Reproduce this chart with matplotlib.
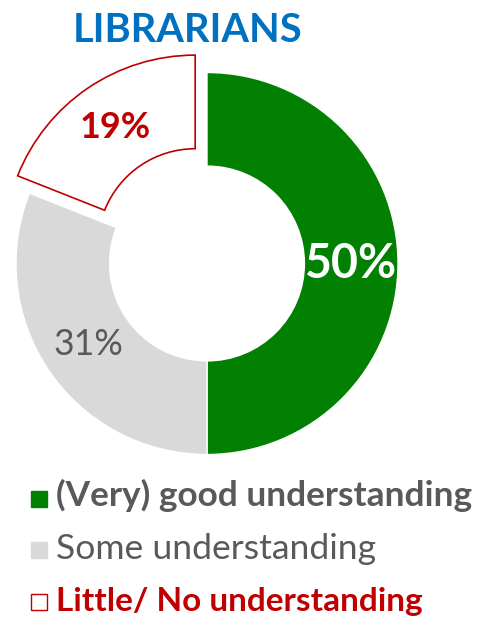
"""
Donut chart: librarians' understanding level.
"""

import matplotlib
matplotlib.use('Agg')
import matplotlib.pyplot as plt
from matplotlib.patches import Rectangle

# data
categories = ['(Very) good understanding', 'Some understanding', 'Little/ No understanding']
shares = [50, 31, 19]
title = 'LIBRARIANS'

W, H = 481, 622
fig = plt.figure(figsize=(W / 100, H / 100), dpi=100)
plt.rcParams['font.family'] = ['Lato', 'DejaVu Sans']

GREEN = '#028002'
GRAY = '#D9D9D9'
RED = '#C00000'
DARK = '#595959'
BLUE = '#0070C0'

# pie centre (px from top-left) and outer radius in px
cx, cy, R = 207, 263.5, 191.0

ax = fig.add_axes([0, 0, 1, 1])
wedges, _, pcts = ax.pie(shares, startangle=90, counterclock=False,
                         explode=[0, 0, 0.11], radius=1.0,
                         autopct='%.0f%%', pctdistance=0.75,
                         wedgeprops=dict(width=0.49, linewidth=1, edgecolor='white'),
                         colors=[GREEN, GRAY, 'white'])
wedges[2].set_edgecolor(RED)
wedges[2].set_linewidth(1.2)
ax.set_aspect('auto')
ax.set_xlim(-cx / R, (W - cx) / R)
ax.set_ylim(-(H - cy) / R, cy / R)
ax.axis('off')

renderer = fig.canvas.get_renderer()


def fit(txt, width_px):
    bb = txt.get_window_extent(renderer)
    txt.set_fontsize(txt.get_fontsize() * width_px / bb.width)


pct_style = [('white', 'bold', 92), (DARK, 'normal', 70), (RED, 'bold', 71)]
for t, (c, w, wd) in zip(pcts, pct_style):
    t.set_color(c)
    t.set_fontweight(w)
    t.set_fontsize(30)
    fit(t, wd)

# title
tt = fig.text(188 / W, 1 - 42 / H, title, ha='center', va='baseline',
              color=BLUE, fontweight='bold', fontsize=30)
fit(tt, 229)

# legend
leg_style = [(GREEN, GREEN, DARK, 'bold', 417, 498.5, 506),
             (GRAY, GRAY, DARK, 'normal', 319, 550, 559),
             ('white', RED, RED, 'bold', 367, 601.5, 611)]
for lab, (fc, ec, tc, w, wd, sq_y, base_y) in zip(categories, leg_style):
    fig.add_artist(Rectangle((31 / W, 1 - (sq_y + 8) / H), 16 / W, 16 / H,
                             transform=fig.transFigure, facecolor=fc,
                             edgecolor=ec, linewidth=1))
    lt = fig.text(56 / W, 1 - base_y / H, lab, ha='left', va='baseline',
                  color=tc, fontweight=w, fontsize=18)
    fit(lt, wd)

plt.savefig('out.png', dpi=100)
plt.close()
